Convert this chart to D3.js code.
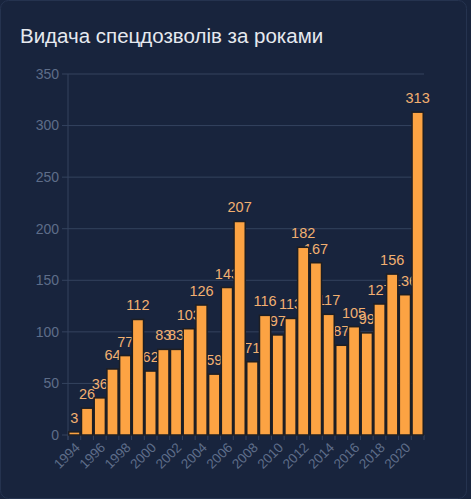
<!DOCTYPE html>
<html>
<head>
<meta charset="utf-8">
<script src="https://cdn.jsdelivr.net/npm/d3@7"></script>
<style>
  html, body { margin: 0; padding: 0; background: #18243d; }
  svg { display: block; font-family: "Liberation Sans", Arial, sans-serif; }
</style>
</head>
<body>
<svg id="main" width="471" height="499"></svg>
<script>
// years on the x axis
var years = [1994, 1995, 1996, 1997, 1998, 1999, 2000, 2001, 2002, 2003,
  2004, 2005, 2006, 2007, 2008, 2009, 2010, 2011, 2012, 2013,
  2014, 2015, 2016, 2017, 2018, 2019, 2020, 2021];
// permits issued per year
var permits = [3, 26, 36, 64, 77, 112, 62, 83, 83, 103,
  126, 59, 143, 207, 71, 116, 97, 113, 182, 167,
  117, 87, 105, 99, 127, 156, 136, 313];
var yTicks = [0, 50, 100, 150, 200, 250, 300, 350];
var title = "Видача спецдозволів за роками";

var svg = d3.select("#main");
var W = 471, H = 499;
var margin = {top: 74, right: 47, bottom: 64, left: 68};

// panel
svg.append("rect")
  .attr("x", 0.5).attr("y", 0.5)
  .attr("width", W - 5).attr("height", H - 1)
  .attr("rx", 8)
  .style("fill", "#18243d")
  .style("stroke", "#25334f");

svg.append("text")
  .attr("x", 20).attr("y", 43)
  .style("font-size", "20.5px")
  .style("fill", "#e6e9ef")
  .text(title);

var x = d3.scaleBand()
  .domain(years)
  .range([margin.left, W - margin.right])
  .paddingInner(0.12)
  .paddingOuter(0.06);

var y = d3.scaleLinear()
  .domain([0, 350])
  .range([H - margin.bottom, margin.top]);

// grid lines
svg.append("g")
  .selectAll("line")
  .data(yTicks)
  .join("line")
  .attr("x1", margin.left - 6)
  .attr("x2", W - margin.right)
  .attr("y1", function(d) { return y(d); })
  .attr("y2", function(d) { return y(d); })
  .style("stroke", "#34435e")
  .style("stroke-width", 1);

// y axis line
svg.append("line")
  .attr("x1", margin.left).attr("x2", margin.left)
  .attr("y1", margin.top).attr("y2", y(0) + 5)
  .style("stroke", "#34435e");

// y tick labels
svg.append("g")
  .selectAll("text")
  .data(yTicks)
  .join("text")
  .attr("x", margin.left - 9)
  .attr("y", function(d) { return y(d); })
  .attr("dy", "0.35em")
  .attr("text-anchor", "end")
  .style("font-size", "14px")
  .style("fill", "#5e6d89")
  .text(function(d) { return d; });

// x tick marks at band edges
var step = x.step();
var edges = years.map(function(d, i) { return margin.left + i * step; }).concat([W - margin.right]);
svg.append("g")
  .selectAll("line")
  .data(edges)
  .join("line")
  .attr("x1", function(d) { return d; })
  .attr("x2", function(d) { return d; })
  .attr("y1", y(0))
  .attr("y2", y(0) + 5)
  .style("stroke", "#34435e");

// x labels every other year
svg.append("g")
  .selectAll("text")
  .data(years.filter(function(d, i) { return i % 2 === 0; }))
  .join("text")
  .attr("transform", function(d) {
    return "translate(" + (x(d) + x.bandwidth() / 2 + 3) + "," + (y(0) + 10) + ") rotate(-45)";
  })
  .attr("text-anchor", "end")
  .attr("dy", "0.35em")
  .style("font-size", "13.5px")
  .style("fill", "#5e6d89")
  .text(function(d) { return d; });

// value labels go under the bars
svg.append("g")
  .selectAll("text")
  .data(years)
  .join("text")
  .attr("x", function(d) { return x(d) + x.bandwidth() / 2; })
  .attr("y", function(d, i) { return y(permits[i]) - 9; })
  .attr("text-anchor", "middle")
  .style("font-size", "14.5px")
  .style("fill", "#f2b071")
  .text(function(d, i) { return permits[i]; });

// bars
svg.append("g")
  .selectAll("rect")
  .data(years)
  .join("rect")
  .attr("x", function(d) { return x(d); })
  .attr("y", function(d, i) { return y(permits[i]); })
  .attr("width", x.bandwidth())
  .attr("height", function(d, i) { return y(0) - y(permits[i]); })
  .style("fill", "#fca343")
  .style("stroke", "#1e1e22")
  .style("stroke-width", 1.5);
</script>
</body>
</html>
